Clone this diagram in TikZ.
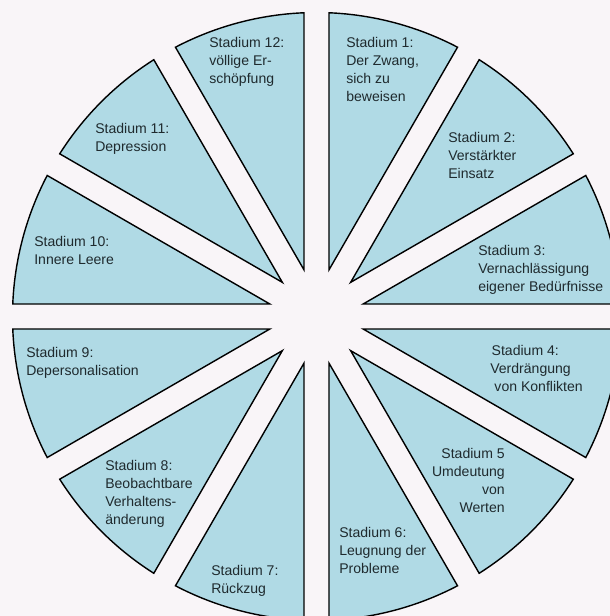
\documentclass[tikz,border=0pt]{standalone}
\usepackage{fontspec}
\setmainfont{Liberation Sans}
\usetikzlibrary{calc}
\definecolor{stagefill}{HTML}{B0DAE5}
\definecolor{pagebg}{HTML}{F9F5F8}
\definecolor{stagetext}{HTML}{1F2A2E}

\begin{document}
\begin{tikzpicture}[
    sector/.style={draw=black, fill=stagefill, line width=1pt, line join=miter},
    label/.style={inner sep=0pt, anchor=north west, align=left, text=stagetext,
                  font=\fontsize{10}{12.8}\selectfont},
    rlabel/.style={label, anchor=north east, align=right}
]
\def\R{7.6}
\def\tip{1.2075}
\def\dd{2.357}

% Background
\fill[pagebg] (-7.9125,-7.4875) rectangle (7.3375,7.9125);
\useasboundingbox (-7.9125,-7.4875) rectangle (7.3375,7.9125);

% Twelve sectors with gaps
\foreach \k in {1,...,12} {
    \pgfmathsetmacro\aa{90-30*\k}
    \pgfmathsetmacro\bb{\aa+15}
    \draw[sector] (\bb:\tip) -- (\aa+\dd:\R)
        arc[start angle=\aa+\dd, end angle=\aa+30-\dd, radius=\R] -- cycle;
}

% Stage labels
\node[label] at (0.7375,6.9875) (s1) {Stadium 1:\\Der Zwang,\\sich zu\\beweisen};
\node[label] at (3.2875,4.6125) (s2) {Stadium 2:\\Verstärkter\\Einsatz};
\node[label] at (4.0375,1.7875) (s3) {Stadium 3:\\Vernachlässigung\\eigener Bedürfnisse};
\node[label] at (4.3375,-0.7125) (s4) {\hspace*{1pt}Stadium 4:\\Verdrängung\\\hspace*{3pt}von Konflikten};
\node[rlabel] at (4.7125,-3.2875) (s5) {Stadium 5\\Umdeutung\\von\\Werten};
\node[label] at (0.5625,-5.2625) (s6) {Stadium 6:\\Leugnung der\\Probleme};
\node[label] at (-2.6375,-6.2125) (s7) {Stadium 7:\\Rückzug};
\node[label] at (-5.2875,-3.5875) (s8) {Stadium 8:\\Beobachtbare\\Verhaltens-\\änderung};
\node[label] at (-7.2625,-0.7625) (s9) {Stadium 9:\\Depersonalisation};
\node[label] at (-7.0625,2.0125) (s10) {Stadium 10:\\Innere Leere};
\node[label] at (-5.5375,4.8375) (s11) {Stadium 11:\\Depression};
\node[label] at (-2.6875,6.9875) (s12) {Stadium 12:\\völlige Er-\\schöpfung};

\end{tikzpicture}
\end{document}
